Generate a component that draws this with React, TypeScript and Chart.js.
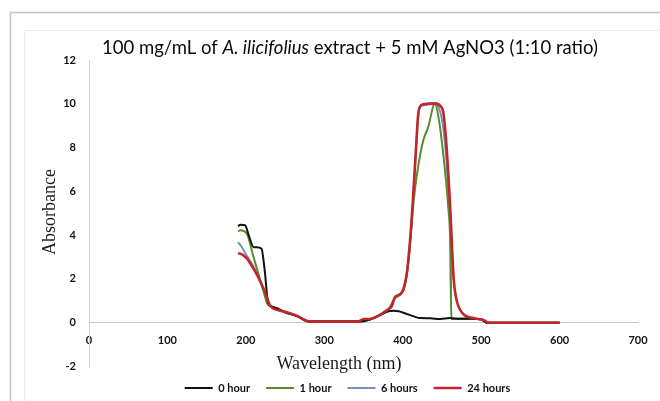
import React, { useEffect, useRef } from "react";
import { Chart, registerables } from "chart.js";

Chart.register(...registerables);

// ---- text ----
const TITLE_PARTS = [
  { text: "100 mg/mL of ", italic: false },
  { text: "A. ilicifolius", italic: true },
  { text: " extract + 5 mM AgNO3 (1:10 ratio)", italic: false },
];
const X_TITLE = "Wavelength (nm)";
const Y_TITLE = "Absorbance";
const SERIES_LABELS = ["0 hour", "1 hour", "6 hours", "24 hours"];

// ---- axes ----
const X_MIN = 0;
const X_MAX = 700;
const X_STEP = 100;
const Y_MIN = -2;
const Y_MAX = 12;
const Y_STEP = 2;

// ---- data (wavelength nm, absorbance) ----
const hour0Wavelength = [190, 193, 199, 204, 210, 214, 220, 224, 228.5, 232, 240, 250, 265, 282, 300, 343, 358, 375, 382, 388, 395, 405, 415, 422, 435, 448, 460, 473, 490, 500, 507, 520, 560, 600];
const hour0Absorbance = [4.41, 4.47, 4.45, 3.95, 3.45, 3.45, 3.38, 2.4, 0.88, 0.76, 0.65, 0.48, 0.3, 0.05, 0.05, 0.05, 0.15, 0.42, 0.52, 0.55, 0.52, 0.4, 0.28, 0.21, 0.2, 0.17, 0.21, 0.18, 0.18, 0.16, 0.0, 0.0, 0.0, 0.0];

const hour1Wavelength = [190, 193, 201, 210, 216, 222, 227, 232, 240, 250, 265, 282, 300, 343, 358, 375, 382, 390, 397, 401, 405, 409, 413, 416, 420, 426, 433, 439, 441, 446, 452, 458, 460.5, 462, 473, 490, 500, 507, 520, 600];
const hour1Absorbance = [4.17, 4.22, 4.08, 2.97, 2.23, 1.5, 0.9, 0.75, 0.65, 0.48, 0.3, 0.05, 0.05, 0.05, 0.15, 0.42, 0.6, 1.12, 1.28, 1.5, 2.15, 3.4, 5.2, 6.2, 7.2, 8.3, 9.0, 9.9, 10.0, 9.3, 7.6, 5.3, 3.7, 0.17, 0.18, 0.18, 0.16, 0.0, 0.0, 0.0];

const hour6Wavelength = [190, 195, 201, 210, 216, 222, 228, 232, 240, 250, 265, 282, 300, 343, 358, 375, 382, 390, 397, 401, 405, 409, 413, 417, 420, 424, 431, 441, 448, 452, 456, 459, 461, 462, 473, 490, 500, 507, 520, 600];
const hour6Absorbance = [3.68, 3.45, 3.07, 2.55, 2.05, 1.55, 0.95, 0.75, 0.65, 0.48, 0.3, 0.05, 0.05, 0.05, 0.15, 0.42, 0.6, 1.12, 1.28, 1.5, 2.15, 3.5, 5.5, 7.9, 9.5, 9.9, 9.95, 10.0, 9.6, 8.8, 7.3, 5.3, 3.7, 0.17, 0.18, 0.18, 0.16, 0.0, 0.0, 0.0];

const hour24Wavelength = [190, 196, 201, 207.5, 216, 224.5, 231, 243.6, 250, 265, 282, 300, 343, 350, 358, 368, 375, 382, 386, 390, 397, 401, 405, 409, 413, 417, 420, 424, 431, 441, 448, 452, 456, 460.5, 465, 469, 477, 490, 503, 510, 550, 600];
const hour24Absorbance = [3.18, 3.1, 2.95, 2.6, 2.07, 1.39, 0.78, 0.55, 0.5, 0.32, 0.05, 0.05, 0.05, 0.17, 0.17, 0.3, 0.45, 0.63, 0.75, 1.16, 1.31, 1.54, 2.2, 3.6, 5.6, 8.0, 9.6, 9.95, 10.0, 10.02, 9.9, 9.55, 8.0, 5.3, 2.0, 1.0, 0.4, 0.21, 0.12, 0.0, 0.0, 0.0];

const SERIES_COLORS = ["#111111", "#5b8a2f", "#7393b8", "#c0272d"];
const SERIES_WIDTHS = [2, 2, 2, 2.6];
const SERIES_ORDER = [1, 2, 3, 0];

const toPoints = (xs: number[], ys: number[]) => xs.map((x, i) => ({ x, y: ys[i] }));

const TICK_FONT = { family: "Lato", size: 11, weight: "bold" as const };
const TEXT_COLOR = "#111111";

const decorPlugin = {
  id: "decor",
  beforeDraw(chart: any) {
    const { ctx } = chart;
    ctx.save();
    ctx.fillStyle = "#ffffff";
    ctx.fillRect(0, 0, chart.width, chart.height);
    ctx.strokeStyle = "#c4c4c4";
    ctx.lineWidth = 1.5;
    ctx.strokeRect(10.5, 12.5, chart.width + 20, chart.height + 20);
    ctx.strokeStyle = "#ececec";
    ctx.lineWidth = 1;
    ctx.strokeRect(24.5, 30.5, chart.width + 20, chart.height + 20);
    ctx.restore();
  },
  afterDraw(chart: any) {
    const { ctx } = chart;
    ctx.save();
    const size = 18.5;
    const fam = "Lato";
    let total = 0;
    const widths = TITLE_PARTS.map((p) => {
      ctx.font = `${p.italic ? "italic " : ""}${size}px ${fam}`;
      const w = ctx.measureText(p.text).width;
      total += w;
      return w;
    });
    let x = 350 - total / 2;
    ctx.fillStyle = "#0a0a0a";
    ctx.textBaseline = "middle";
    ctx.textAlign = "left";
    TITLE_PARTS.forEach((p, i) => {
      ctx.font = `${p.italic ? "italic " : ""}${size}px ${fam}`;
      ctx.fillText(p.text, x, 48);
      x += widths[i];
    });
    ctx.fillStyle = "#1a1a1a";
    ctx.font = "18px 'Liberation Serif'";
    ctx.textAlign = "center";
    ctx.fillText(X_TITLE, 339, 364);
    ctx.translate(50, 212);
    ctx.rotate(-Math.PI / 2);
    ctx.fillText(Y_TITLE, 0, 0);
    ctx.restore();
  },
};

export default function App() {
  const ref = useRef<HTMLCanvasElement | null>(null);
  useEffect(() => {
    document.body.style.margin = "0";
    const canvas = ref.current;
    if (!canvas) return;
    const xs = [hour0Wavelength, hour1Wavelength, hour6Wavelength, hour24Wavelength];
    const ys = [hour0Absorbance, hour1Absorbance, hour6Absorbance, hour24Absorbance];
    const chart = new Chart(canvas, {
      type: "line",
      data: {
        datasets: SERIES_LABELS.map((label, i) => ({
          label,
          data: toPoints(xs[i], ys[i]),
          borderColor: SERIES_COLORS[i],
          backgroundColor: SERIES_COLORS[i],
          borderWidth: SERIES_WIDTHS[i],
          pointRadius: 0,
          cubicInterpolationMode: "monotone" as const,
          fill: false,
          order: SERIES_ORDER[i],
        })),
      },
      options: {
        responsive: false,
        animation: false,
        events: [],
        layout: { padding: { top: 60, right: 22, bottom: -2.5, left: 57 } },
        scales: {
          x: {
            type: "linear",
            min: X_MIN,
            max: X_MAX,
            position: { y: 0 } as any,
            grid: { display: false, drawTicks: false },
            border: { display: true, color: "#c8c8c8", width: 1 },
            ticks: { stepSize: X_STEP, font: TICK_FONT, color: TEXT_COLOR, padding: 11, maxRotation: 0 },
          },
          y: {
            type: "linear",
            min: Y_MIN,
            max: Y_MAX,
            grid: { display: false, drawTicks: false },
            border: { display: true, color: "#d4d4d4", width: 1 },
            ticks: { stepSize: Y_STEP, font: TICK_FONT, color: TEXT_COLOR, padding: 13 },
            afterFit: (s: any) => {
              s.width = 32;
            },
          },
        },
        plugins: {
          title: { display: false },
          tooltip: { enabled: false },
          legend: {
            display: true,
            position: "bottom",
            labels: {
              usePointStyle: true,
              pointStyle: "line",
              pointStyleWidth: 28,
              font: TICK_FONT,
              color: TEXT_COLOR,
              padding: 16,
              sort: (a: any, b: any) => a.datasetIndex - b.datasetIndex,
            },
          },
        },
      },
      plugins: [decorPlugin],
    });
    return () => chart.destroy();
  }, []);
  return (
    <div style={{ width: 660, height: 401, overflow: "hidden" }}>
      <canvas ref={ref} width={660} height={401} style={{ display: "block" }} />
    </div>
  );
}
